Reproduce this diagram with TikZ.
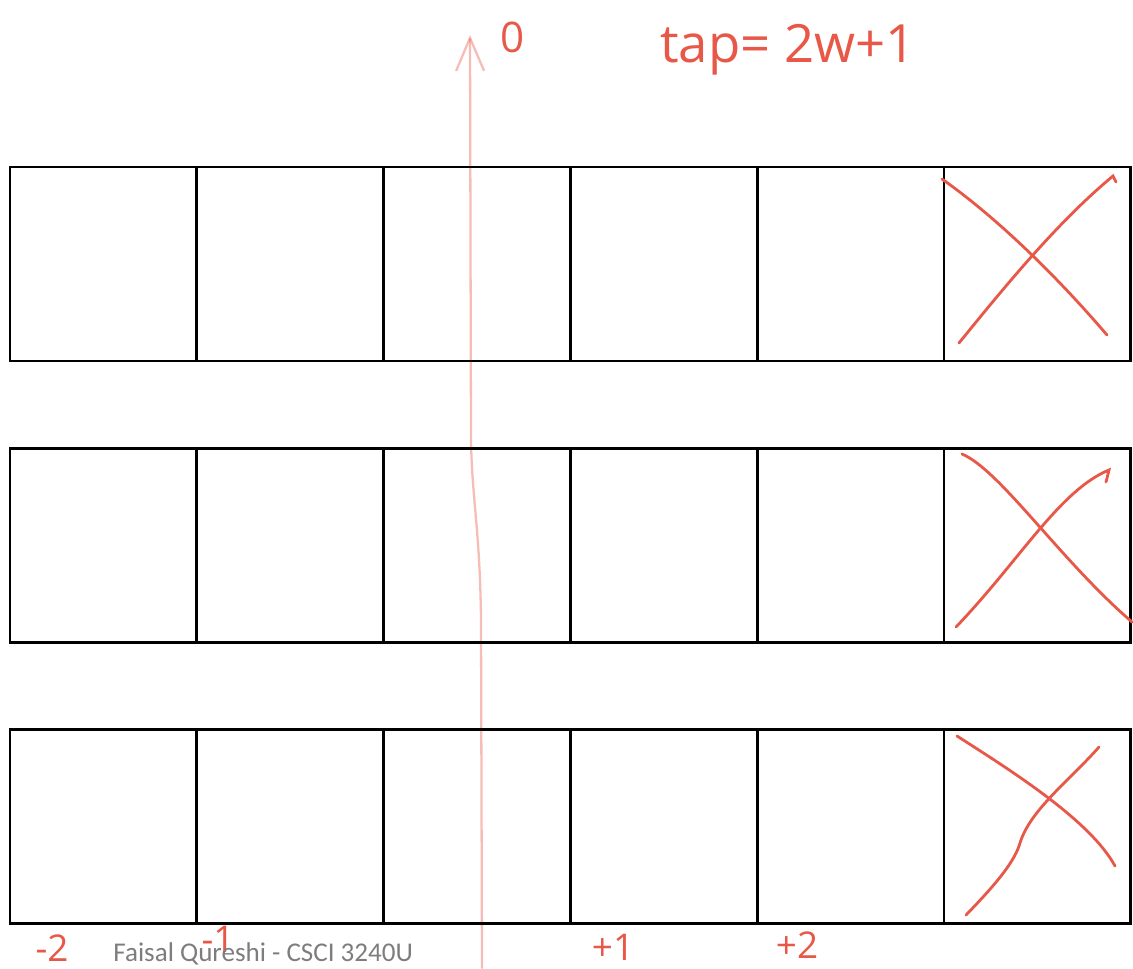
\documentclass[tikz,border=0pt]{standalone}
\usepackage{fontspec}
\setmainfont{Carlito}
\newfontfamily\handfont{Open Sans}
\usetikzlibrary{arrows.meta}
\definecolor{inkred}{RGB}{232,88,72}
\definecolor{footgray}{RGB}{125,125,125}

\begin{document}
\begin{tikzpicture}[x=0.02cm, y=-0.02cm,
    cell/.style={draw, line width=1.5pt, minimum width=3.736cm, minimum height=3.88cm, inner sep=0pt},
    cross/.style={inkred, line width=1.6pt, line cap=round},
    axis/.style={inkred, opacity=0.4, line width=1.3pt, line cap=round, -{Straight Barb[length=0.66cm, width=0.56cm]}},
    hand/.style={inkred, font=\handfont\fontsize{21}{23}\selectfont, inner sep=0pt},
    footer/.style={footgray, font=\fontsize{15.4}{17}\selectfont, inner sep=0pt}]
  \useasboundingbox (0,0) rectangle (1133,968);

  \coordinate (axisbot) at (482,968);
  \coordinate (axistop) at (470,35);
  \draw[axis] (axisbot) -- (481,620) .. controls (480,530) and (472,500) .. (471,440) -- (axistop);

  \foreach \r/\y in {1/264, 2/545.5, 3/826.5}
    \foreach \c in {1,...,6}
      \node[cell] (c\r\c) at ({10+186.8*(\c-0.5)}, \y) {};

  \draw[cross] (942,179) .. controls (1000,220) and (1060,280) .. (1107,335);
  \draw[cross] (959,343) .. controls (1010,280) and (1060,220) .. (1113,176) -- (1116,182);
  \draw[cross] (962,454) .. controls (1000,470) and (1060,560) .. (1132,622);
  \draw[cross] (956,627) .. controls (1020,560) and (1060,490) .. (1109,470) -- (1106,482);
  \draw[cross] (957,736) .. controls (1010,770) and (1090,820) .. (1115,866);
  \draw[cross] (966,915) .. controls (1000,880) and (1015,860) .. (1020,843) .. controls (1030,810) and (1070,780) .. (1099,747);

  \node[hand, font=\handfont\fontsize{24}{26}\selectfont] (zero) at (513,37) {0};
  \node[hand, font=\handfont\fontsize{30}{32}\selectfont] (tap) at (788,50) {tap= 2w+1};

  \node[hand] (mtwo) at (52,948) {-2};
  \node[hand] (mone) at (218,939) {-1};
  \node[hand] (pone) at (613,947) {+1};
  \node[hand] (ptwo) at (797,945) {+2};

  \node[footer, anchor=west] (credit) at (113,954) {Faisal Qureshi - CSCI 3240U};
\end{tikzpicture}
\end{document}
